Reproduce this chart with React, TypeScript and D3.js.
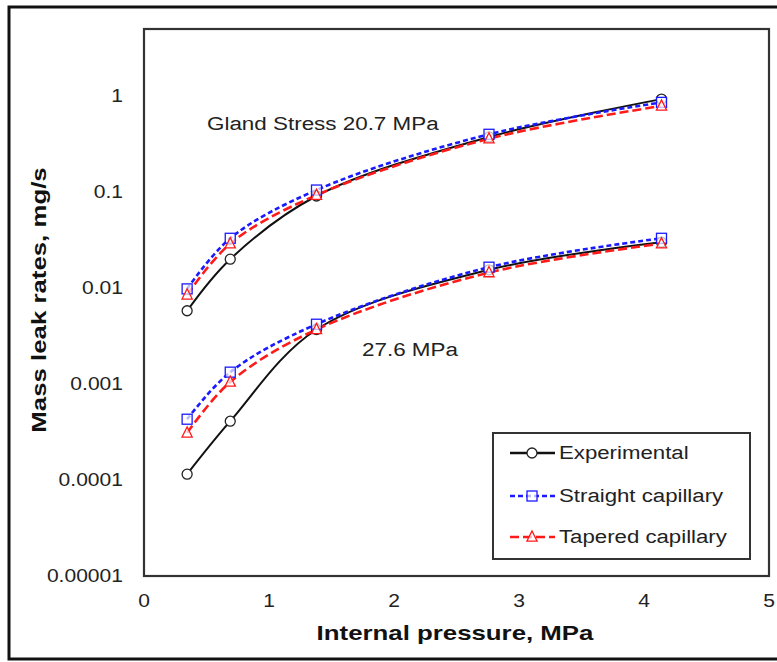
import React from "react";
import * as d3 from "d3";

const pressures = [0.345, 0.69, 1.38, 2.76, 4.14];
const exp207 = [0.0058, 0.02, 0.091, 0.375, 0.93];
const str207 = [0.0098, 0.033, 0.105, 0.4, 0.86];
const tap207 = [0.0085, 0.029, 0.093, 0.36, 0.79];
const exp276 = [0.000115, 0.00041, 0.0037, 0.0155, 0.03];
const str276 = [0.00043, 0.00133, 0.0042, 0.0165, 0.033];
const tap276 = [0.00031, 0.00105, 0.0037, 0.0145, 0.029];
const xTicks = [0, 1, 2, 3, 4, 5];
const yTicks = [1, 0.1, 0.01, 0.001, 0.0001, 0.00001];
const yTickLabels = ["1", "0.1", "0.01", "0.001", "0.0001", "0.00001"];
const seriesNames = ["Experimental", "Straight capillary", "Tapered capillary"];

const W = 777;
const H = 662;
const plot = { left: 144, top: 29, right: 769, bottom: 576 };

const FONT = "'Liberation Sans', Arial, sans-serif";

type Style = { color: string; dash: string | null; marker: "circle" | "square" | "triangle" };
const styles: Style[] = [
  { color: "#111", dash: null, marker: "circle" },
  { color: "#1a1aff", dash: "5,3", marker: "square" },
  { color: "#ff1a1a", dash: "9,4", marker: "triangle" },
];

function Marker({ kind, x, y, color }: { kind: string; x: number; y: number; color: string }) {
  if (kind === "circle")
    return <circle cx={x} cy={y} r={5} fill="#fff" stroke="#222" strokeWidth={1.3} />;
  if (kind === "square")
    return <rect x={x - 5} y={y - 5} width={10} height={10} fill="#fff" fillOpacity={0.7} stroke={color} strokeWidth={1.3} />;
  const s = 6;
  return (
    <path
      d={`M${x},${y - s}L${x + s * 0.85},${y + s * 0.7}L${x - s * 0.85},${y + s * 0.7}Z`}
      fill="#fff"
      fillOpacity={0.7}
      stroke={color}
      strokeWidth={1.3}
    />
  );
}

function SText({
  x, y, sx = 1.17, anchor = "start", size, weight = "normal", fill = "#222", rotate = 0, children,
}: any) {
  return (
    <g transform={`translate(${x},${y}) rotate(${rotate}) scale(${sx},1)`}>
      <text x={0} y={0} textAnchor={anchor} fontSize={size} fontWeight={weight} fill={fill} fontFamily={FONT}>
        {children}
      </text>
    </g>
  );
}

export default function App() {
  const x = d3.scaleLinear().domain([0, 5]).range([plot.left, plot.right]);
  const y = d3.scaleLog().domain([0.00001, 5]).range([plot.bottom, plot.top]);
  const line = d3
    .line<[number, number]>()
    .x((d) => x(d[0]))
    .y((d) => y(d[1]))
    .curve(d3.curveCatmullRom.alpha(0.5));

  const groups = [
    [exp207, str207, tap207],
    [exp276, str276, tap276],
  ];

  const legend = { x: 493, y: 433, w: 257, h: 126 };
  const legendRows = [453, 496, 537];

  return (
    <svg
      width={W}
      height={H}
      style={{ position: "absolute", left: 0, top: 0, background: "#fff" }}
    >
      <rect x={0} y={0} width={W} height={H} fill="#fff" />
      {/* outer frame */}
      <rect x={9} y={7} width={W + 10} height={652} fill="none" stroke="#111" strokeWidth={3} />
      {/* plot frame */}
      <rect
        x={plot.left}
        y={plot.top}
        width={plot.right - plot.left}
        height={plot.bottom - plot.top}
        fill="#fff"
        stroke="#333"
        strokeWidth={2.2}
      />
      {/* y tick labels */}
      {yTicks.map((t, i) => (
        <SText key={t} x={123} y={y(t) + 6} anchor="end" size={18} sx={1.17}>
          {yTickLabels[i]}
        </SText>
      ))}
      {/* x tick labels */}
      {xTicks.map((t) => (
        <SText key={t} x={x(t)} y={607} anchor="middle" size={18} sx={1.17}>
          {String(t)}
        </SText>
      ))}
      {/* axis titles */}
      <SText x={455} y={640} anchor="middle" size={21} weight="bold" fill="#111" sx={1.23}>
        Internal pressure, MPa
      </SText>
      <SText x={46} y={300} anchor="middle" size={21} weight="bold" fill="#111" rotate={-90} sx={1.23}>
        Mass leak rates, mg/s
      </SText>
      {/* annotations */}
      <SText x={207} y={130} size={19} sx={1.18}>
        Gland Stress 20.7 MPa
      </SText>
      <SText x={362} y={356} size={19} sx={1.18}>
        27.6 MPa
      </SText>
      {/* series lines */}
      {groups.map((g, gi) =>
        g.map((vals, si) => (
          <path
            key={`l${gi}-${si}`}
            d={line(pressures.map((p, k) => [p, vals[k]]) as [number, number][]) || ""}
            fill="none"
            stroke={styles[si].color}
            strokeWidth={si === 0 ? 2 : 2.6}
            strokeDasharray={styles[si].dash || undefined}
          />
        ))
      )}
      {/* markers */}
      {groups.map((g, gi) =>
        g.map((vals, si) =>
          pressures.map((p, k) => (
            <Marker key={`m${gi}-${si}-${k}`} kind={styles[si].marker} x={x(p)} y={y(vals[k])} color={styles[si].color} />
          ))
        )
      )}
      {/* legend */}
      <rect x={legend.x} y={legend.y} width={legend.w} height={legend.h} fill="#fff" stroke="#333" strokeWidth={2} />
      {seriesNames.map((name, i) => (
        <g key={name}>
          <line
            x1={510}
            x2={555}
            y1={legendRows[i]}
            y2={legendRows[i]}
            stroke={styles[i].color}
            strokeWidth={i === 0 ? 2.5 : 2.6}
            strokeDasharray={styles[i].dash || undefined}
          />
          <Marker kind={styles[i].marker} x={532} y={legendRows[i]} color={styles[i].color} />
          <SText x={559} y={legendRows[i] + 6} size={19} sx={1.17}>
            {name}
          </SText>
        </g>
      ))}
    </svg>
  );
}
